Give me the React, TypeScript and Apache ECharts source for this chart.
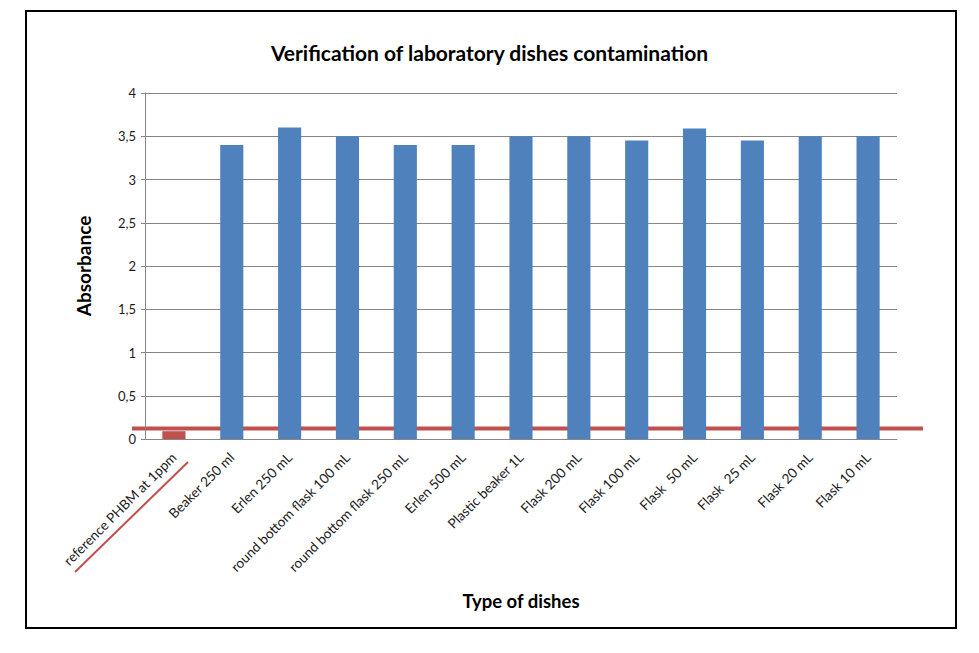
import React, { useEffect, useRef } from "react";
import * as echarts from "echarts";

const categories = [
  "reference PHBM at 1ppm",
  "Beaker 250 ml",
  "Erlen 250 mL",
  "round bottom flask 100 mL",
  "round bottom flask 250 mL",
  "Erlen 500 mL",
  "Plastic beaker 1L",
  "Flask 200 mL",
  "Flask 100 mL",
  "Flask  50 mL",
  "Flask  25 mL",
  "Flask 20 mL",
  "Flask 10 mL",
];
const absorbance = [0.09, 3.4, 3.6, 3.5, 3.4, 3.4, 3.5, 3.5, 3.45, 3.59, 3.45, 3.5, 3.5];
const thresholdValue = 0.12;
const yTicks = [0, 0.5, 1, 1.5, 2, 2.5, 3, 3.5, 4];

const FONT = "Lato, 'Open Sans', sans-serif";

export default function App() {
  const ref = useRef<HTMLDivElement>(null);
  useEffect(() => {
    if (!ref.current) return;
    const chart = echarts.init(ref.current, null, { renderer: "svg" });
    const option: any = {
      animation: false,
      backgroundColor: "#ffffff",
      title: {
        text: "Verification of laboratory dishes contamination",
        left: "center",
        top: 37,
        textStyle: { fontFamily: FONT, fontSize: 21, fontWeight: "bold", color: "#000" },
      },
      grid: { left: 145, right: 82, top: 93, bottom: 214, containLabel: false },
      xAxis: {
        type: "category",
        data: categories,
        name: "Type of dishes",
        nameLocation: "middle",
        nameGap: 152,
        nameTextStyle: { fontFamily: FONT, fontSize: 18.5, fontWeight: "bold", color: "#000" },
        axisLine: { lineStyle: { color: "#868686", width: 1 } },
        axisTick: { show: false },
        axisLabel: {
          rotate: 45,
          interval: 0,
          margin: 16,
          fontFamily: FONT,
          fontSize: 13.6,
          color: "#1a1a1a",
        },
      },
      yAxis: {
        type: "value",
        min: yTicks[0],
        max: yTicks[yTicks.length - 1],
        interval: 0.5,
        name: "Absorbance",
        nameLocation: "middle",
        nameGap: 52,
        nameTextStyle: { fontFamily: FONT, fontSize: 19, fontWeight: "bold", color: "#000" },
        axisLine: { show: true, lineStyle: { color: "#868686" } },
        axisTick: { show: true, length: 4, lineStyle: { color: "#868686" } },
        splitLine: { lineStyle: { color: "#868686", width: 1 } },
        axisLabel: {
          margin: 9,
          fontFamily: FONT,
          fontSize: 13,
          color: "#1a1a1a",
          formatter: (v: number) => String(v).replace(".", ","),
        },
      },
      series: [
        {
          type: "bar",
          barWidth: "40%",
          data: absorbance.map((v, i) => ({
            value: v,
            itemStyle: { color: i === 0 ? "#C0504D" : "#4F81BD" },
          })),
        },
      ],
    };
    chart.setOption(option);
    const yPix = chart.convertToPixel({ yAxisIndex: 0 }, thresholdValue) as number;
    chart.setOption({
      graphic: [
        {
          type: "rect",
          shape: { x: 26, y: 11, width: 930, height: 617 },
          style: { fill: "none", stroke: "#000", lineWidth: 2 },
          silent: true,
        },
        {
          type: "line",
          shape: { x1: 132, y1: yPix, x2: 923, y2: yPix },
          style: { stroke: "#C0504D", lineWidth: 4 },
          silent: true,
        },
        {
          type: "line",
          shape: { x1: 75, y1: 572, x2: 188, y2: 462 },
          style: { stroke: "#C0504D", lineWidth: 2 },
          silent: true,
        },
      ],
    });
    return () => chart.dispose();
  }, []);
  return <div ref={ref} style={{ width: 979, height: 653, position: "absolute", left: 0, top: 0 }} />;
}
